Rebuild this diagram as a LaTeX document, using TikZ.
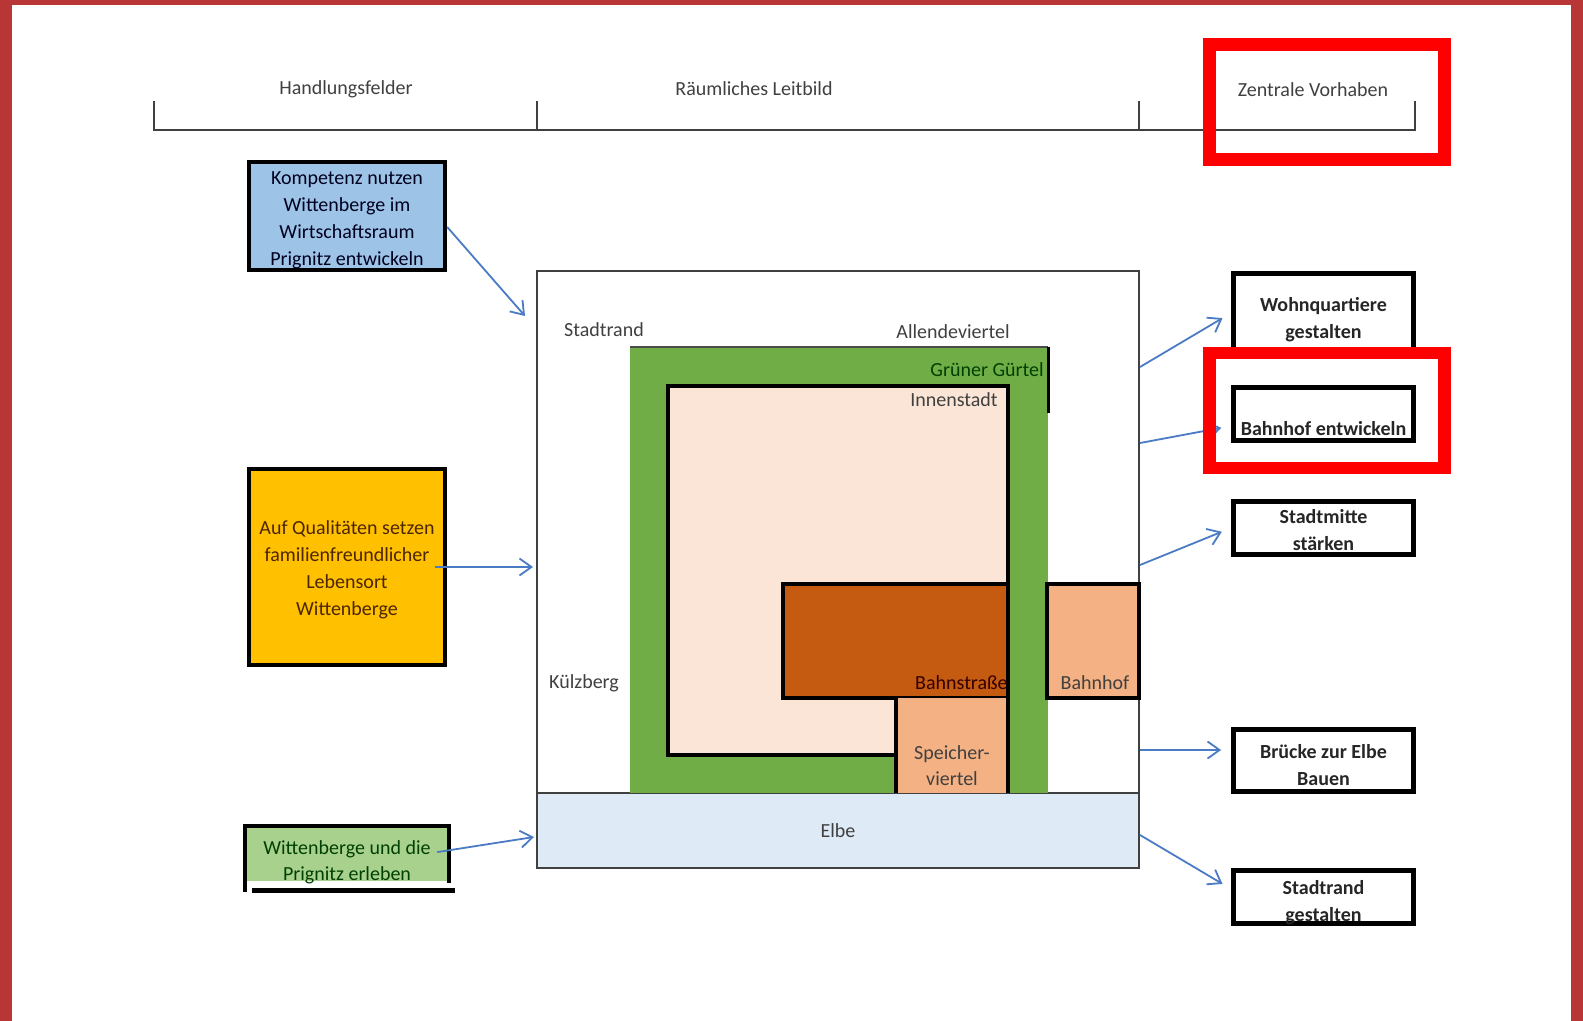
\documentclass[tikz,border=0pt]{standalone}
\usepackage{fontspec}
\setmainfont{Carlito}
\usetikzlibrary{arrows.meta, calc}

\definecolor{framered}{HTML}{B93637}
\definecolor{markred}{HTML}{FF0000}
\definecolor{arrowblue}{HTML}{4A7BC4}
\definecolor{kompblue}{HTML}{9DC3E6}
\definecolor{qualorange}{HTML}{FFC000}
\definecolor{erlebgreen}{HTML}{A9D18E}
\definecolor{beltgreen}{HTML}{70AD47}
\definecolor{innenrose}{HTML}{FBE5D6}
\definecolor{strasseorange}{HTML}{C55A11}
\definecolor{speicherorange}{HTML}{F4B183}
\definecolor{elbeblue}{HTML}{DEEBF7}
\definecolor{labelgrey}{HTML}{404040}

\begin{document}
\begin{tikzpicture}[x=0.5pt, y=-0.5pt]

        \tikzstyle{fieldbox} = [draw=black, line width=2.2pt, align=center, inner sep=0pt, font=\fontsize{10}{13.5}\selectfont];
        \tikzstyle{goalbox} = [draw=black, line width=2.4pt, fill=white, align=center, inner sep=0pt, minimum width=90pt, font=\bfseries\fontsize{10}{13.5}\selectfont, text=black!85];
        \tikzstyle{maplabel} = [inner sep=0pt, font=\fontsize{10}{12}\selectfont, text=labelgrey];
        \tikzstyle{arrow} = [draw=arrowblue, line width=0.9pt, -{Straight Barb[length=6pt, width=8.5pt]}];
        \tikzstyle{marker} = [draw=markred, line width=6.3pt];

        \useasboundingbox (0,0) rectangle (1583,1021);

        % Frame
        \fill[framered] (0,0) rectangle (1583,1021);
        \fill[white] (11.5,4.6) rectangle (1571,1021);

        % Header
        \draw[labelgrey, line width=1pt] (154,101) -- (154,130) -- (1415,130) -- (1415,101);
        \draw[labelgrey, line width=1pt] (537,101) -- (537,130);
        \draw[labelgrey, line width=1pt] (1139,101) -- (1139,130);
        \node[maplabel] (HF) at (346,89) {Handlungsfelder};
        \node[maplabel] (RL) at (754,89) {Räumliches Leitbild};
        \node[maplabel] (ZV) at (1313,90) {Zentrale Vorhaben};
        % Header

        % Middle - Map
        \node[draw=labelgrey, line width=1pt, fill=white, minimum width=301pt, minimum height=298.5pt, inner sep=0pt] (Map) at (838,569.5) {};
        \fill[elbeblue] (537,793) rectangle (1139,868);
        \draw[labelgrey, line width=1pt] (537,793) rectangle (1139,868);

        \fill[beltgreen] (630,347) rectangle (1048,793);
        \draw[black!70, line width=1pt] (630,347) -- (1048,347);
        \draw[black, line width=1.5pt] (1048,347) -- (1048,413);

        \filldraw[fill=innenrose, draw=black, line width=2pt] (668,386) rectangle (1008,755);
        \filldraw[fill=strasseorange, draw=black, line width=2pt] (783,584) rectangle (1008,698);
        \fill[speicherorange] (896,698) rectangle (1008,793);
        \draw[black, line width=1.6pt] (896,698) -- (896,793);
        \draw[black, line width=2pt] (1008,698) -- (1008,793);
        \filldraw[fill=speicherorange, draw=black, line width=1.6pt] (1047,584) rectangle (1139,698);

        \node[maplabel] (Stadtrand) at (604,330) {Stadtrand};
        \node[maplabel] (Allende) at (953,332) {Allendeviertel};
        \node[maplabel, text=green!25!black, anchor=east] (Guertel) at (1044,370) {Grüner Gürtel};
        \node[maplabel, anchor=east] (Innen) at (998,400) {Innenstadt};
        \node[maplabel] (Kuelz) at (584,683) {Külzberg};
        \node[maplabel, text=black!80!red, anchor=east] (Strasse) at (1008,683) {Bahnstraße};
        \node[maplabel] (Bahnhof) at (1095,683) {Bahnhof};
        \node[maplabel, align=center, font=\fontsize{10}{13}\selectfont] (Speicher) at (952,766) {Speicher-\\viertel};
        \node[maplabel] (Elbe) at (838,831) {Elbe};
        % Middle - Map

        % Left - Handlungsfelder
        \node[fieldbox, fill=kompblue, text=black!88!blue, minimum width=98pt, minimum height=54pt, text height=50.9pt] (Komp) at (347,216) {Kompetenz nutzen\\Wittenberge im\\Wirtschaftsraum\\Prignitz entwickeln};
        \node[fieldbox, fill=qualorange, text=black!70!orange, minimum width=98pt, minimum height=98pt, text height=50.5pt] (Qual) at (347,567) {Auf Qualitäten setzen\\familienfreundlicher\\Lebensort\\Wittenberge};
        \node[fieldbox, draw=none, fill=erlebgreen, text=black!75!green, minimum width=100pt, minimum height=26.5pt, font=\fontsize{10}{13}\selectfont, text height=26pt, text depth=0pt] (Erleb) at (347,854.5) {Wittenberge und die\\Prignitz erleben};
        \draw[black, line width=2.2pt] ($(Erleb.south west)+(0,9)$) -- (Erleb.north west) -- (Erleb.north east) -- (Erleb.south east);
        \draw[black, line width=2.6pt] ($(Erleb.south west)+(7,7)$) -- ($(Erleb.south east)+(6,7)$);

        \coordinate (KompEnd) at (525,316);
        \coordinate (ErlebEnd) at (534,837);
        \draw [arrow] ([yshift=-5.5pt]Komp.east) -- (KompEnd);
        \draw [arrow, shorten >=1.5pt] ([xshift=-6pt]Qual.east) -- (Qual.east -| Map.west);
        \draw [arrow] ([xshift=-6pt, yshift=1.2pt]Erleb.east) -- (ErlebEnd);
        % Left - Handlungsfelder

        % Right - Zentrale Vorhaben
        \node[goalbox, minimum height=39.6pt, text height=27.6pt] (Wohn) at (1323.5,313) {Wohnquartiere\\gestalten};
        \node[goalbox, minimum height=26.6pt] (BahnEntw) at (1323.5,414) {\raisebox{-7.5pt}[\height][\depth]{Bahnhof entwickeln}};
        \node[goalbox, minimum height=26.6pt, text height=22.6pt] (Mitte) at (1323.5,528) {Stadtmitte\\stärken};
        \node[goalbox, minimum height=31pt, text height=25.1pt] (Bruecke) at (1323.5,760.5) {Brücke zur Elbe\\Bauen};
        \node[goalbox, minimum height=26.6pt, text height=24.5pt, text depth=0.5pt] (Rand) at (1323.5,897) {Stadtrand\\gestalten};

        \coordinate (MapE1) at (1140,367);
        \coordinate (MapE2) at (1140,443);
        \coordinate (MapE3) at (1140,565);
        \coordinate (MapE4) at (1140,750);
        \coordinate (MapE5) at (1140,835);
        \draw [arrow, shorten >=5pt] (MapE1) -- (Wohn.west);
        \draw [arrow, shorten >=5pt] (MapE2) -- ([yshift=-6pt]BahnEntw.west);
        \draw [arrow, shorten >=5pt] (MapE3) -- (Mitte.west);
        \draw [arrow, shorten >=5pt] (MapE4) -- (MapE4 -| Bruecke.west);
        \draw [arrow, shorten >=5pt] (MapE5) -- ([yshift=4pt]Rand.west);

        \draw[marker] (1209.5,44.5) rectangle (1444.5,159.5);
        \draw[marker] (1209.5,353) rectangle (1444.5,468);
        % Right - Zentrale Vorhaben

\end{tikzpicture}
\end{document}
